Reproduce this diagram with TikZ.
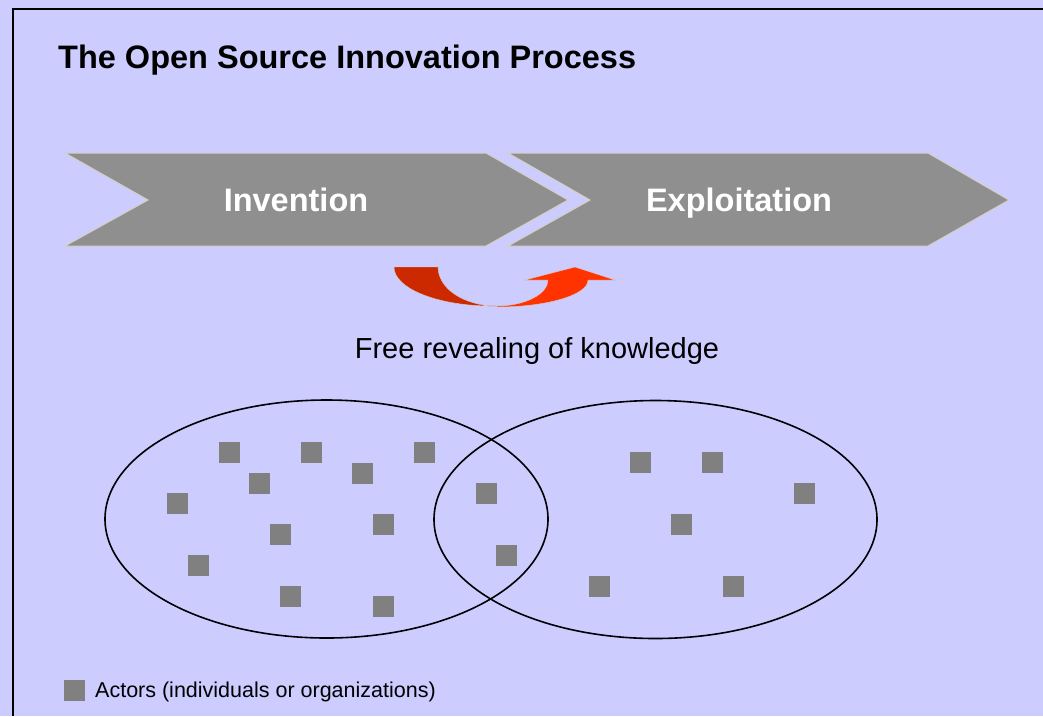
\documentclass[tikz,border=0pt]{standalone}
\usepackage{fontspec}
\setmainfont{Liberation Sans}
\usetikzlibrary{shapes.geometric}
\definecolor{slidebg}{RGB}{204,204,255}
\definecolor{chevgray}{RGB}{143,143,143}
\definecolor{chevedge}{RGB}{212,208,196}
\definecolor{actorgray}{RGB}{128,128,128}
\definecolor{darkorange}{RGB}{204,41,0}
\definecolor{brightorange}{RGB}{255,51,0}
\tikzset{
    chev/.style={fill=chevgray, draw=chevedge, line width=1pt},
    chevtext/.style={text=white, font=\bfseries\fontsize{32.5}{38}\selectfont, anchor=base},
    actor/.style={fill=actorgray, draw=none, minimum size=21pt, inner sep=0pt},
    actorset/.style={draw=black, line width=1.6pt, ellipse, minimum width=443pt, minimum height=238pt, inner sep=0pt}
}
\begin{document}
\begin{tikzpicture}[x=1pt, y=-1pt]
    \useasboundingbox (0,0) rectangle (1043,716);
    \fill[slidebg] (0,0) rectangle (1043,716);
    \draw[line width=2pt] (13,716) -- (13,9) -- (1043,9);
    \node[anchor=base west, inner sep=0pt, font=\bfseries\fontsize{32.5}{38}\selectfont] (title) at (58,68) {The Open Source Innovation Process};
    % the two phases
    \draw[chev]
        (65,153) -- (486,153) -- (568,200) -- (486,246) -- (65,246) -- (148,200) -- cycle;
    \draw[chev]
        (508,153) -- (928,153) -- (1009,200) -- (928,246) -- (508,246) -- (590,200) -- cycle;
    \node[chevtext] (inv) at (296,211.5) {Invention};
    \node[chevtext] (expl) at (739,211.5) {Exploitation};
    % curved arrow
    \fill[darkorange, draw=chevedge, line width=0.4pt]
        (394,267) -- (438,267) .. controls (438,288.5) and (464,306) .. (497,306)
        .. controls (440,307) and (394,289) .. cycle;
    \fill[brightorange, draw=chevedge, line width=0.4pt]
        (497,306) .. controls (525,306) and (548,294) .. (548,280) -- (525,280) -- (575,267)
        -- (615,280) -- (588,280) .. controls (588,295) and (547,307) .. (497,307) -- cycle;
    \node[anchor=base, inner sep=0pt, font=\fontsize{29}{34}\selectfont] (free) at (537,358) {Free revealing of knowledge};
    % actors
    \node[actorset] (invset) at (326.5,519) {};
    \node[actorset] (explset) at (655.5,519.5) {};
    \coordinate (D1) at (229.5,452.5);
    \coordinate (D2) at (311.5,452.5);
    \coordinate (D3) at (424.5,452.5);
    \coordinate (D4) at (259.5,483.5);
    \coordinate (D5) at (362.5,473.5);
    \coordinate (D6) at (177.5,503.5);
    \coordinate (D7) at (486.5,493.5);
    \coordinate (D8) at (280.5,534.5);
    \coordinate (D9) at (383.5,524.5);
    \coordinate (D10) at (198.5,565.5);
    \coordinate (D11) at (506.5,555.5);
    \coordinate (D12) at (290.5,596.5);
    \coordinate (D13) at (383.5,606.5);
    \coordinate (D14) at (640.5,462.5);
    \coordinate (D15) at (712.5,462.5);
    \coordinate (D16) at (804.5,493.5);
    \coordinate (D17) at (681.5,524.5);
    \coordinate (D18) at (599.5,586.5);
    \coordinate (D19) at (733.5,586.5);
    \foreach \dot in {D1,D2,D3,D4,D5,D6,D7,D8,D9,D10,D11,D12,D13,D14,D15,D16,D17,D18,D19}
        \node[actor] (\dot sq) at (\dot) {};
    % legend
    \node[actor] (key) at (74.5,690.5) {};
    \node[anchor=base west, inner sep=0pt, font=\fontsize{21.5}{26}\selectfont] (legend) at (95,697) {Actors (individuals or organizations)};
\end{tikzpicture}
\end{document}
